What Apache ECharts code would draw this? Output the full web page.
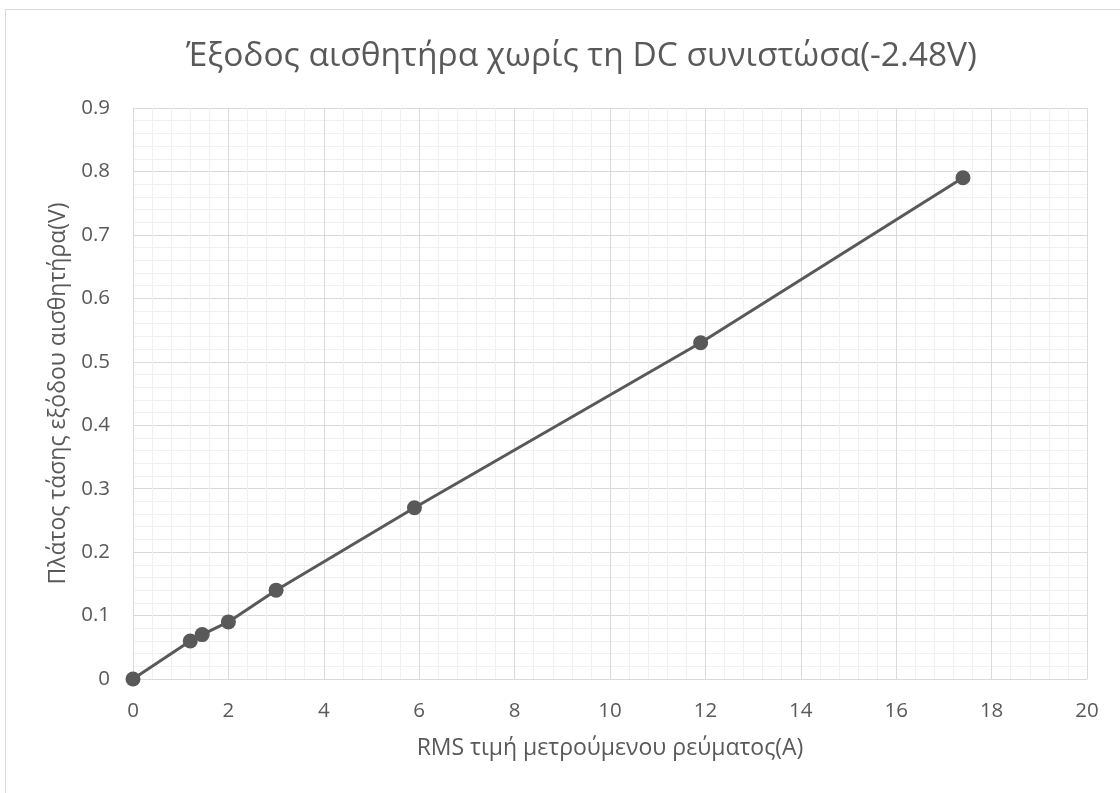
<!DOCTYPE html>
<html>
<head>
<meta charset="utf-8">
<script src="https://cdn.jsdelivr.net/npm/echarts@6/dist/echarts.min.js"></script>
<style>html,body{margin:0;padding:0;background:#fff}#c{width:1120px;height:793px}</style>
</head>
<body>
<div id="c"></div>
<script>
const titleText = 'Έξοδος αισθητήρα χωρίς τη DC συνιστώσα(-2.48V)';
const xName = 'RMS τιμή μετρούμενου ρεύματος(A)';
const yName = 'Πλάτος τάσης εξόδου αισθητήρα(V)';
const currentA = [0, 1.2, 1.45, 2, 3, 5.9, 11.9, 17.4];
const voltageV = [0, 0.06, 0.07, 0.09, 0.14, 0.27, 0.53, 0.79];

const font = '"Open Sans", "Noto Sans", sans-serif';
const chart = echarts.init(document.getElementById('c'), null, {renderer: 'canvas'});
chart.setOption({
  animation: false,
  backgroundColor: '#fff',
  graphic: [{
    type: 'rect', left: 3, top: 7, shape: {width: 1130, height: 800},
    style: {fill: 'none', stroke: '#d9d9d9', lineWidth: 1}, silent: true
  }],
  title: {
    text: titleText, left: 181, top: 34,
    textStyle: {fontFamily: font, fontSize: 33.5, fontWeight: 'normal', color: '#595959'}
  },
  grid: {left: 133, right: 33, top: 108, bottom: 114},
  xAxis: {
    type: 'value', min: 0, max: 20, interval: 2,
    name: xName, nameLocation: 'middle', nameGap: 58,
    nameTextStyle: {fontFamily: font, fontSize: 23, color: '#595959'},
    axisLine: {show: true, onZero: false, lineStyle: {color: '#d9d9d9'}},
    axisTick: {show: false},
    axisLabel: {fontFamily: font, fontSize: 20.5, color: '#595959', margin: 22},
    splitLine: {show: true, lineStyle: {color: '#d9d9d9', width: 1}},
    minorTick: {show: false, splitNumber: 5},
    minorSplitLine: {show: true, lineStyle: {color: '#f0f0f0', width: 1}}
  },
  yAxis: {
    type: 'value', min: 0, max: 0.9, interval: 0.1,
    name: yName, nameLocation: 'middle', nameGap: 56, nameRotate: 90,
    nameTextStyle: {fontFamily: font, fontSize: 23, color: '#595959'},
    axisLine: {show: true, lineStyle: {color: '#d9d9d9'}},
    axisTick: {show: false},
    axisLabel: {fontFamily: font, fontSize: 20.5, color: '#595959', margin: 23,
      formatter: v => String(Math.round(v * 10) / 10)},
    splitLine: {show: true, lineStyle: {color: '#d9d9d9', width: 1}},
    minorTick: {show: false, splitNumber: 5},
    minorSplitLine: {show: true, lineStyle: {color: '#f0f0f0', width: 1}}
  },
  series: [{
    type: 'line',
    data: currentA.map((x, i) => [x, voltageV[i]]),
    symbol: 'circle', symbolSize: 15,
    lineStyle: {color: '#595959', width: 3},
    itemStyle: {color: '#595959'}
  }]
});
</script>
</body>
</html>
